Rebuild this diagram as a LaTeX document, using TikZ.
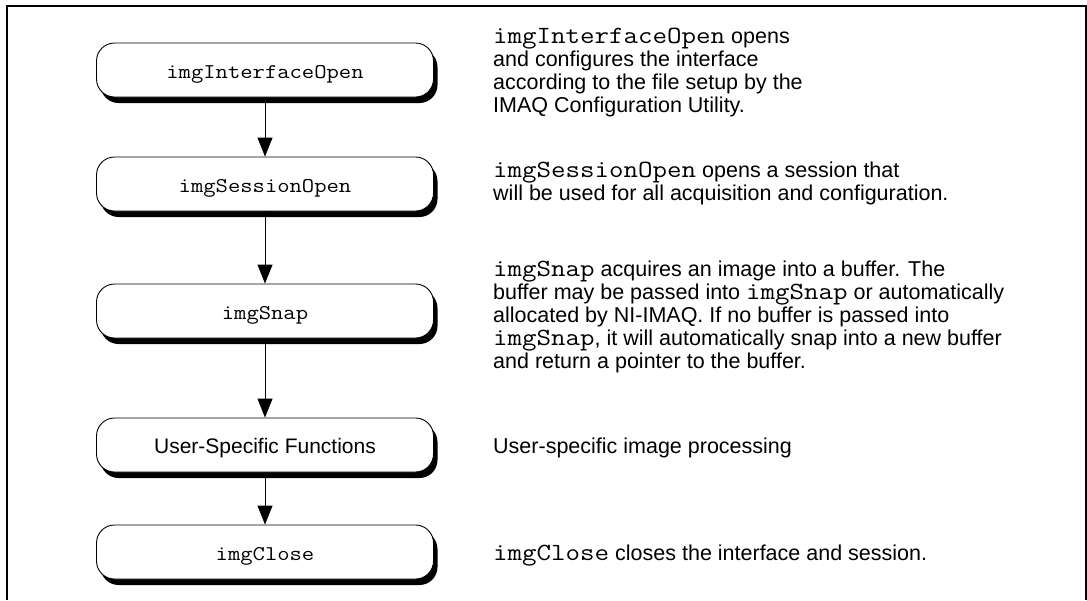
\documentclass[tikz,border=0pt]{standalone}
\usepackage{fontspec}
\setmainfont{Liberation Sans}
\newfontfamily\codefont[FakeStretch=1.14]{Latin Modern Mono}
\usepackage{tikz}
\usetikzlibrary{arrows.meta,shadows}

\newcommand{\fnname}[1]{{\fontsize{24.7}{23}\selectfont\codefont #1}}

\begin{document}
\begin{tikzpicture}[
		x=1pt, y=-1pt,
		font=\fontsize{21}{24}\selectfont,
		callbox/.style={draw=black, line width=0.9pt, fill=white, rectangle,
			rounded corners=18pt, minimum width=337pt, minimum height=54pt,
			text height=17pt, text depth=0pt, inner sep=0pt,
			drop shadow={shadow xshift=4pt, shadow yshift=-6pt, fill=black, opacity=1}},
		flow/.style={line width=1pt, -{Triangle[length=19pt,width=15pt]}},
		note/.style={anchor=north west, align=left, inner sep=0pt,
			font=\fontsize{21.5}{23}\selectfont}
		]
		\useasboundingbox (0,0) rectangle (1087,600);
		
		% Frame (open at the bottom)
		\draw[line width=1.5pt] (7,600) -- (7,6) -- (1086,6) -- (1086,600);
		
		% Call sequence
		\node[callbox] (iface) at (265,70) {\codefont imgInterfaceOpen};
		\node[callbox] (session) at (265,184) {\codefont imgSessionOpen};
		\node[callbox] (snap) at (265,311) {\codefont imgSnap};
		\node[callbox] (user) at (265,445) {User-Specific Functions};
		\node[callbox] (close) at (265,552) {\codefont imgClose};
		
		\draw[flow] (iface) -- (session);
		\draw[flow] (session) -- (snap);
		\draw[flow] (snap) -- (user);
		\draw[flow] (user) -- (close);
		
		% Notes
		\node[note] (ifaceNote) at (493,28) {\fnname{imgInterfaceOpen} opens\\
			and configures the interface\\
			according to the file setup by the\\
			IMAQ Configuration Utility.};
		\node[note] (sessionNote) at (493,162) {\fnname{imgSessionOpen} opens a session that\\
			will be used for all acquisition and configuration.};
		\node[note] (snapNote) at (493,261) {\fnname{imgSnap} acquires an image into a buffer. The\\
			buffer may be passed into \fnname{imgSnap} or automatically\\
			allocated by NI-IMAQ. If no buffer is passed into\\
			\fnname{imgSnap}, it will automatically snap into a new buffer\\
			and return a pointer to the buffer.};
		\node[note] (userNote) at (493,438) {User-specific image processing};
		\node[note] (closeNote) at (493,545) {\fnname{imgClose} closes the interface and session.};
\end{tikzpicture}
\end{document}
